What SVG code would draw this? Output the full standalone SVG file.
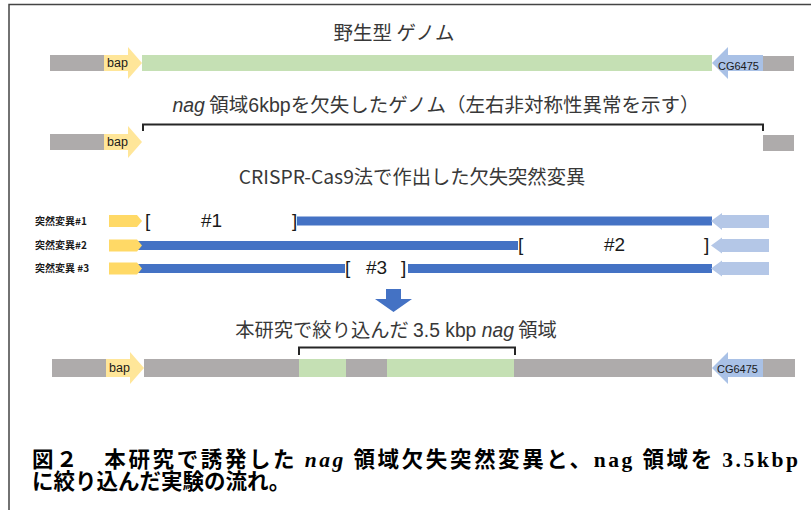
<svg xmlns="http://www.w3.org/2000/svg" width="811" height="515" viewBox="0 0 811 515">
<defs>
<style>
.gray{fill:#AEABAB}
.green{fill:#C5E0B4}
.yel{fill:#FFE699}
.yel2{fill:#FFD966}
.cg{fill:#A9C1E6}
.lb{fill:#B4C7E7}
.blue{fill:#4472C4}
.br{fill:none;stroke:#262626;stroke-width:2}
.ttl{font-family:"Noto Sans CJK JP",sans-serif;font-size:19.5px;fill:#383838;text-anchor:middle}
.lbl{font-family:"Liberation Sans","Noto Sans CJK JP",sans-serif;font-size:12.5px;fill:#1a1a1a}
.cgl{font-family:"Liberation Sans",sans-serif;font-size:11px;fill:#1a1a1a}
.mut{font-family:"Noto Sans CJK JP",sans-serif;font-size:10px;font-weight:bold;fill:#1a1a1a}
.bk{font-family:"Liberation Sans",sans-serif;font-size:19px;fill:#1a1a1a}
.cap{font-family:"Noto Sans CJK JP",sans-serif;font-size:21.5px;font-weight:bold;fill:#000}
.ser{font-family:"Liberation Serif",serif}
</style>
</defs>
<rect width="811" height="515" fill="#fff"/>
<path d="M9,510 V4.5 H811" fill="none" stroke="#444" stroke-width="1.5"/>

<g id="wildtype">
<text class="ttl" x="394" y="40">野生型 ゲノム</text>
<rect class="gray" x="50" y="55" width="54" height="16"/>
<polygon class="yel" points="104,55 128,55 128,47 142,63 128,79 128,71 104,71"/>
<text class="lbl" x="107" y="67">bap</text>
<rect class="green" x="142" y="55" width="570" height="16"/>
<polygon class="cg" points="712,63 728,47 728,55 763,55 763,71 728,71 728,79"/>
<text class="cgl" x="718" y="70">CG6475</text>
<rect class="gray" x="763" y="56" width="31" height="15"/>
</g>

<g id="deleted">
<text class="ttl" x="436" y="112"><tspan font-style="italic" font-family="Liberation Sans">nag</tspan> 領域<tspan font-family="Liberation Sans">6kbp</tspan>を欠失したゲノム（左右非対称性異常を示す）</text>
<rect class="gray" x="50" y="134" width="54" height="16"/>
<polygon class="yel" points="104,134 128,134 128,126 142,142 128,158 128,150 104,150"/>
<text class="lbl" x="107" y="146">bap</text>
<rect class="gray" x="763" y="135" width="31" height="16"/>
</g>

<g id="crispr-title">
<text class="ttl" x="412" y="184" style="font-size:19.3px">CRISPR-Cas9法で作出した欠失突然変異</text>
</g>

<g id="mut1">
<text class="mut" x="35" y="225">突然変異#1</text>
<rect class="blue" x="297" y="216.5" width="415" height="9"/>
<polygon class="yel2" points="109,215 137,215 142,221 137,227 109,227"/>
<polygon class="lb" points="711,221 722,213 722,215 769,215 769,228 722,228 722,230"/>
<text class="bk" x="145" y="227">[</text>
<text class="bk" x="201" y="227">#1</text>
<text class="bk" x="292" y="227">]</text>
</g>

<g id="mut2">
<text class="mut" x="35" y="249">突然変異#2</text>
<rect class="blue" x="137" y="241" width="381" height="9"/>
<polygon class="yel2" points="109,239.5 137,239.5 142,245.5 137,251.5 109,251.5"/>
<polygon class="lb" points="711,245.5 722,237.5 722,239 769,239 769,252 722,252 722,253.5"/>
<text class="bk" x="518" y="251">[</text>
<text class="bk" x="604" y="251">#2</text>
<text class="bk" x="704" y="251">]</text>
</g>

<g id="mut3">
<text class="mut" x="35" y="272">突然変異 #3</text>
<rect class="blue" x="137" y="264" width="208" height="9"/>
<rect class="blue" x="408" y="264" width="304" height="9"/>
<polygon class="yel2" points="109,262.5 137,262.5 142,268.5 137,274.5 109,274.5"/>
<polygon class="lb" points="711,268.5 722,260.5 722,262 769,262 769,275 722,275 722,276.5"/>
<text class="bk" x="345" y="274">[</text>
<text class="bk" x="366" y="274">#3</text>
<text class="bk" x="401" y="274">]</text>
</g>

<g id="down-arrow">
<polygon class="blue" points="386,289 401,289 401,299 412,299 393.5,312 375,299 386,299"/>
</g>

<g id="narrowed">
<text class="ttl" x="396" y="337" style="font-size:19.3px">本研究で絞り込んだ <tspan font-family="Liberation Sans">3.5 kbp </tspan><tspan font-family="Liberation Sans" font-style="italic">nag</tspan> 領域</text>
<rect class="gray" x="52" y="359" width="54" height="18"/>
<polygon class="yel" points="106,359 130,359 130,352 144,368 130,384 130,377 106,377"/>
<text class="lbl" x="109" y="372">bap</text>
<rect class="gray" x="144" y="359" width="155" height="18"/>
<rect class="green" x="299" y="359" width="47" height="18"/>
<rect class="gray" x="346" y="359" width="41" height="18"/>
<rect class="green" x="387" y="359" width="127" height="18"/>
<rect class="gray" x="514" y="359" width="198" height="18"/>
<polygon class="cg" points="712,368 728,352 728,359 763,359 763,377 728,377 728,384"/>
<text class="cgl" x="717" y="373">CG6475</text>
<rect class="gray" x="763" y="359" width="32" height="18"/>
</g>

<g id="connectors">
<path class="br" d="M143,131 V124.5 H763 V131"/>
<path class="br" d="M299,355 V347.5 H515 V355"/>
</g>

<g id="caption">
<text class="cap" x="32" y="467" textLength="766" lengthAdjust="spacing">図２　本研究で誘発した <tspan class="ser" font-style="italic">nag</tspan> 領域欠失突然変異と、<tspan class="ser">nag</tspan> 領域を <tspan class="ser">3.5kbp</tspan></text>
<text class="cap" x="32" y="489">に絞り込んだ実験の流れ。</text>
</g>
</svg>
